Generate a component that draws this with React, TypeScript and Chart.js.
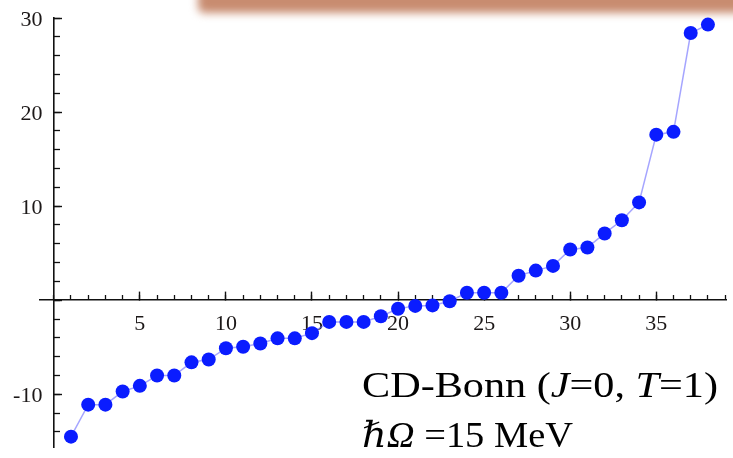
import React, { useEffect, useLayoutEffect, useRef } from "react";
import { Chart, registerables } from "chart.js";

Chart.register(...registerables);

// Eigenvalue index (horizontal axis)
const stateIndex = [
  1, 2, 3, 4, 5, 6, 7, 8, 9, 10,
  11, 12, 13, 14, 15, 16, 17, 18, 19, 20,
  21, 22, 23, 24, 25, 26, 27, 28, 29, 30,
  31, 32, 33, 34, 35, 36, 37, 38,
];

// Eigenvalues, in MeV
const eigenvalues = [
  -14.5, -11.1, -11.1, -9.7, -9.1, -8.0, -8.0, -6.6, -6.3, -5.1,
  -4.95, -4.6, -4.05, -4.05, -3.5, -2.3, -2.3, -2.3, -1.7, -0.9,
  -0.6, -0.55, -0.1, 0.8, 0.8, 0.8, 2.6, 3.15, 3.65, 5.4,
  5.6, 7.1, 8.5, 10.4, 17.6, 17.9, 28.4, 29.3,
];

const xLabelTicks = [5, 10, 15, 20, 25, 30, 35];
const yLabelTicks = [-10, 10, 20, 30];

const annotationLine1 = ["CD-Bonn (", "J", "=0, ", "T", "=1)"];
const annotationLine2 = ["\u210F\u03A9", " =15 MeV"];

const X_MIN = -0.8;
const X_MAX = 39.05;
const Y_MIN = -15.6;
const Y_MAX = 30;

const SERIF = "'Liberation Serif', 'Times New Roman', 'DejaVu Serif', serif";
const AXIS_COLOR = "#111111";
const LABEL_COLOR = "#1c1818";

function axisRange(min: number, max: number) {
  return { type: "linear" as const, min, max };
}

export default function App() {
  const canvasRef = useRef<HTMLCanvasElement | null>(null);
  const line1Ref = useRef<HTMLDivElement | null>(null);
  const line2Ref = useRef<HTMLDivElement | null>(null);

  useLayoutEffect(() => {
    document.body.style.margin = "0";
    const fit = (el: HTMLDivElement | null, target: number) => {
      if (!el) return;
      el.style.transform = "none";
      const w = el.getBoundingClientRect().width;
      if (w > 0) el.style.transform = `scaleX(${target / w})`;
    };
    fit(line1Ref.current, 356);
    fit(line2Ref.current, 211);
  }, []);

  useEffect(() => {
    if (!canvasRef.current) return;
    const labelFont = { family: SERIF, size: 22, lineHeight: 1 };

    const chart = new Chart(canvasRef.current, {
      type: "line",
      data: {
        datasets: [
          {
            data: stateIndex.map((x, i) => ({ x, y: eigenvalues[i] })),
            borderColor: "rgba(105,105,255,0.6)",
            borderWidth: 1.5,
            pointRadius: 7,
            pointHoverRadius: 7,
            pointBackgroundColor: "#0a1cff",
            pointBorderColor: "#0a1cff",
            pointBorderWidth: 0,
            tension: 0,
            clip: false,
            xAxisID: "x",
            yAxisID: "y",
          },
        ],
      },
      options: {
        animation: false,
        responsive: true,
        maintainAspectRatio: false,
        events: [],
        layout: { padding: { left: 40, right: 0, top: 18, bottom: 11 } },
        plugins: { legend: { display: false }, tooltip: { enabled: false } },
        scales: {
          // horizontal axis through y = 0, major ticks with labels
          x: {
            ...axisRange(X_MIN, X_MAX),
            position: { y: 0 },
            border: { display: true, color: AXIS_COLOR, width: 1.6 },
            grid: {
              display: true,
              drawOnChartArea: false,
              drawTicks: true,
              tickLength: -9,
              tickColor: AXIS_COLOR,
              tickWidth: 1.4,
            },
            afterBuildTicks: (scale: any) => {
              scale.ticks = xLabelTicks.map((value) => ({ value }));
            },
            ticks: {
              autoSkip: false,
              maxRotation: 0,
              padding: 22,
              color: LABEL_COLOR,
              font: labelFont,
              callback: (v: any) => String(v),
            },
          },
          // minor ticks on the horizontal axis
          xMinor: {
            ...axisRange(X_MIN, X_MAX),
            position: { y: 0 },
            border: { display: false },
            grid: {
              display: true,
              drawOnChartArea: false,
              drawTicks: true,
              tickLength: -5,
              tickColor: AXIS_COLOR,
              tickWidth: 1.3,
            },
            ticks: { display: false, stepSize: 1, includeBounds: false, autoSkip: false },
          },
          // vertical axis through x = 0, major ticks
          y: {
            ...axisRange(Y_MIN, Y_MAX),
            position: { x: 0 },
            border: { display: true, color: AXIS_COLOR, width: 1.6 },
            grid: {
              display: true,
              drawOnChartArea: false,
              drawTicks: true,
              tickLength: -9,
              tickColor: AXIS_COLOR,
              tickWidth: 1.4,
            },
            ticks: { display: false, stepSize: 10, includeBounds: false, autoSkip: false },
          },
          // minor ticks on the vertical axis
          yMinor: {
            ...axisRange(Y_MIN, Y_MAX),
            position: { x: 0 },
            border: { display: false },
            grid: {
              display: true,
              drawOnChartArea: false,
              drawTicks: true,
              tickLength: -6,
              tickColor: AXIS_COLOR,
              tickWidth: 1.3,
            },
            ticks: { display: false, stepSize: 2, includeBounds: false, autoSkip: false },
          },
          // vertical axis tick labels, set just left of the axis line
          yLabels: {
            ...axisRange(Y_MIN, Y_MAX),
            position: { x: -0.66 },
            border: { display: false },
            grid: { display: false },
            afterBuildTicks: (scale: any) => {
              scale.ticks = yLabelTicks.map((value) => ({ value }));
            },
            ticks: {
              autoSkip: false,
              padding: 0,
              labelOffset: 2,
              color: LABEL_COLOR,
              font: labelFont,
              callback: (v: any) => String(v),
            },
          },
        },
      } as any,
    });
    return () => chart.destroy();
  }, []);

  const textStyle: React.CSSProperties = {
    position: "absolute",
    left: 362,
    fontFamily: SERIF,
    fontSize: 36,
    lineHeight: "36px",
    color: "#000",
    whiteSpace: "nowrap",
    display: "inline-block",
    transformOrigin: "0 0",
  };

  return (
    <div
      style={{
        position: "relative",
        width: 733,
        height: 458,
        overflow: "hidden",
        background: "#ffffff",
      }}
    >
      <div
        style={{
          position: "absolute",
          left: 198,
          top: -24,
          width: 600,
          height: 37,
          background: "rgb(200,140,112)",
          borderRadius: 6,
          filter: "blur(4px)",
        }}
      />
      <div style={{ position: "absolute", left: 0, top: 0, width: 733, height: 458 }}>
        <canvas ref={canvasRef} />
      </div>
      <div ref={line1Ref} style={{ ...textStyle, top: 367 }}>
        {annotationLine1[0]}
        <i>{annotationLine1[1]}</i>
        {annotationLine1[2]}
        <i>{annotationLine1[3]}</i>
        {annotationLine1[4]}
      </div>
      <div ref={line2Ref} style={{ ...textStyle, top: 417 }}>
        <i>{annotationLine2[0]}</i>
        {annotationLine2[1]}
      </div>
    </div>
  );
}
